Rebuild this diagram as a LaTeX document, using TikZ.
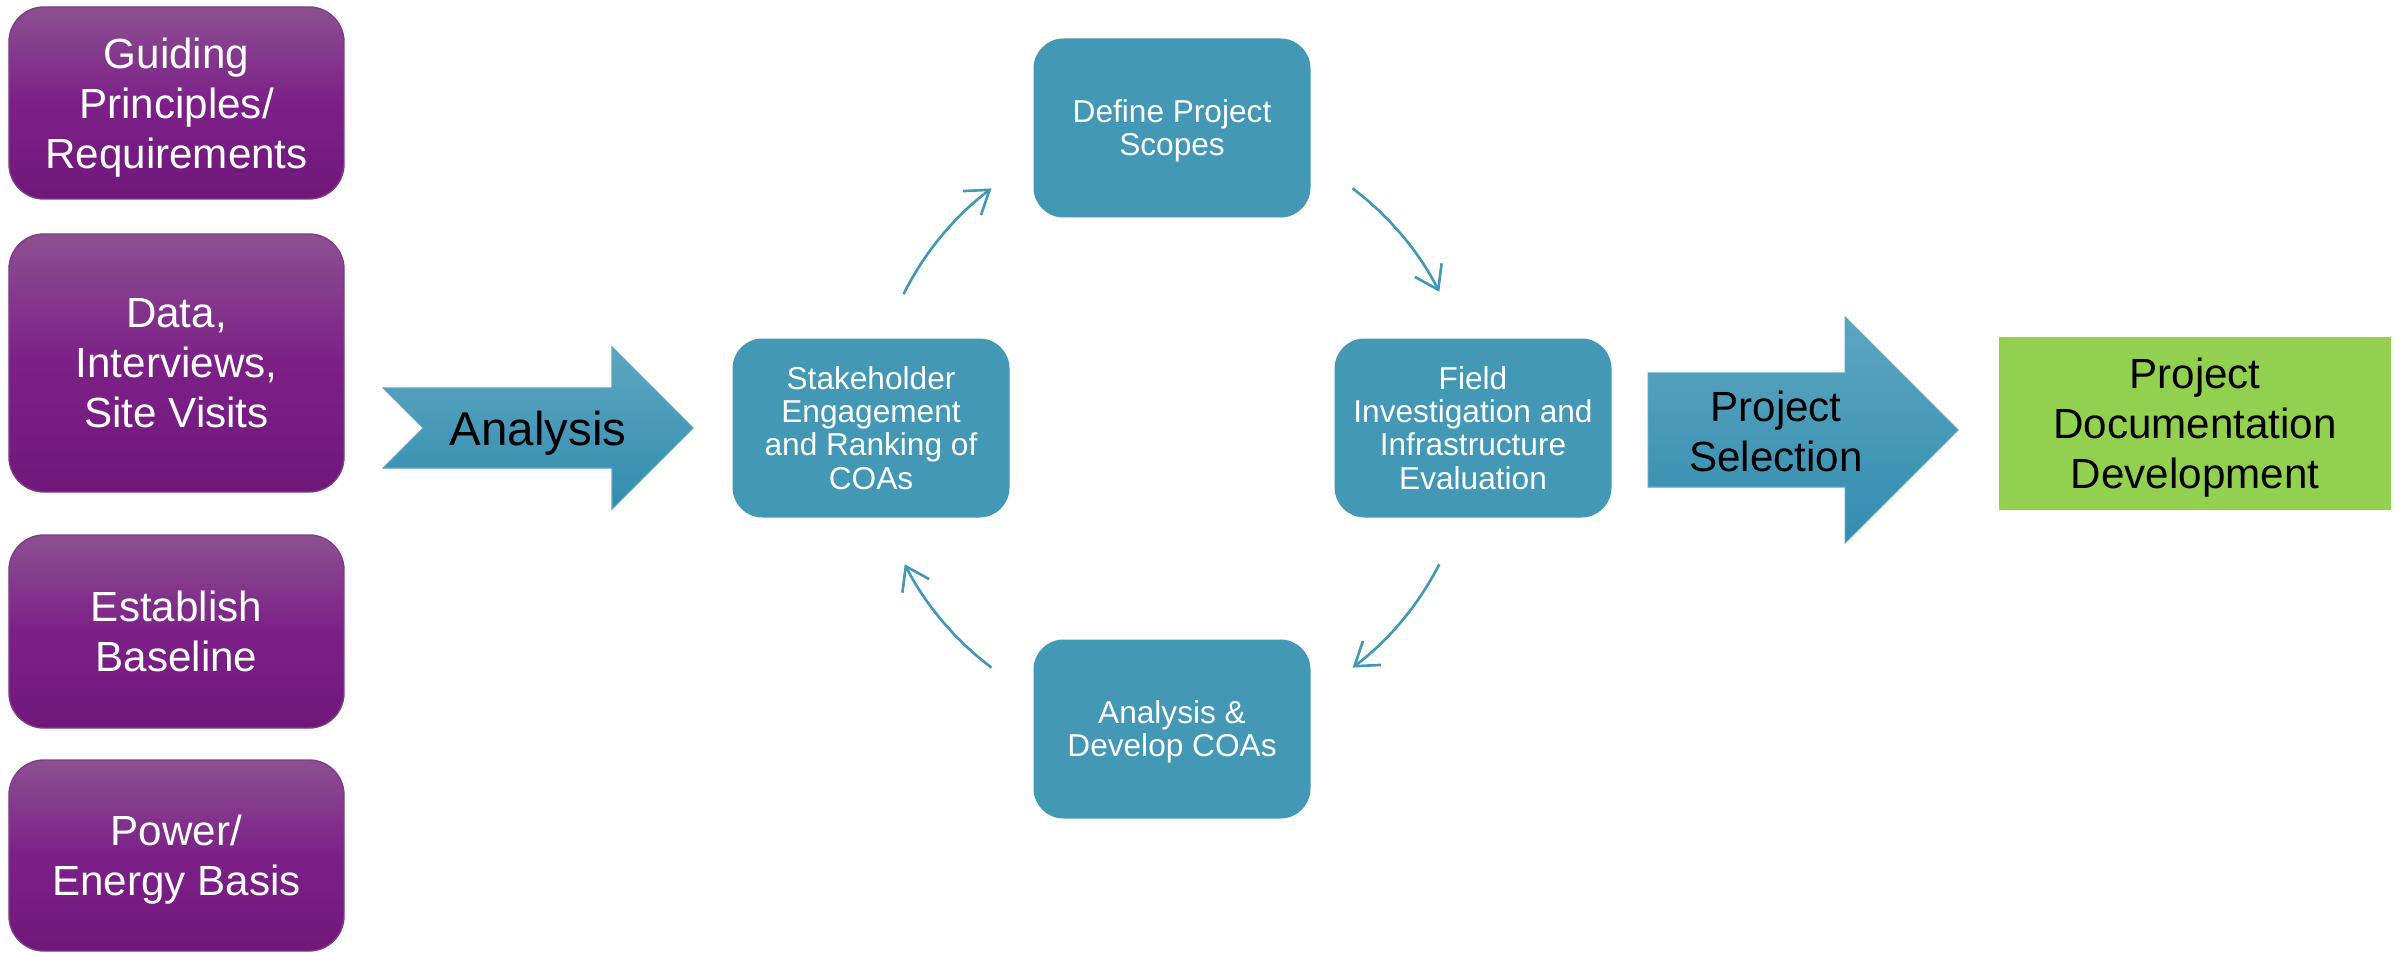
\documentclass[tikz,border=0pt]{standalone}
\usepackage{fontspec}
\setmainfont{Liberation Sans}
\usetikzlibrary{calc,arrows.meta}
\definecolor{purpletop}{RGB}{140,80,145}
\definecolor{purplemid}{RGB}{124,32,136}
\definecolor{purplebot}{RGB}{112,24,122}
\definecolor{purpleline}{RGB}{128,58,138}
\definecolor{tealbox}{RGB}{67,152,182}
\definecolor{arrowtop}{RGB}{92,166,193}
\definecolor{arrowbot}{RGB}{50,140,175}
\definecolor{docgreen}{RGB}{146,208,80}

\begin{document}
\begin{tikzpicture}[
                        prep/.style={rounded corners=0.35cm,draw=purpleline,line width=0.4pt,
                        top color=purpletop,bottom color=purplebot,middle color=purplemid,
                        minimum width=3.35cm,text=white,align=center,text depth=0pt,font=\fontsize{12}{14.2}\selectfont},
                        stepbox/.style={rounded corners=0.3cm,fill=tealbox,minimum width=2.77cm,minimum height=1.79cm,
                        text=white,align=center,text depth=0pt,font=\fontsize{9}{9.4}\selectfont},
                        cycarrow/.style={tealbox,line width=0.75pt,-{Straight Barb[length=2.2mm,width=3mm]}},
                        bigarrow/.style={top color=arrowtop,bottom color=arrowbot,draw=arrowtop,line width=0.3pt},
                        bigtext/.style={align=center,text=black,text depth=0pt}
                        ]
                        \useasboundingbox (0,0) rectangle (24,9.52);
                        % inputs
                        \node[prep,minimum height=1.92cm] (guide) at (1.765,8.49) {Guiding\\Principles/\\Requirements};
                        \node[prep,minimum height=2.58cm] (data) at (1.765,5.89) {Data,\\Interviews,\\Site Visits};
                        \node[prep,minimum height=1.93cm] (base) at (1.765,3.205) {Establish\\Baseline};
                        \node[prep,minimum height=1.91cm] (power) at (1.765,0.965) {Power/\\Energy Basis};

                        % analysis arrow
                        \shadedraw[bigarrow] (3.83,5.64) -- (6.12,5.64) -- (6.12,6.05) -- (6.93,5.24)
                                -- (6.12,4.43) -- (6.12,4.84) -- (3.83,4.84) -- (4.23,5.24) -- cycle;
                        \node[bigtext,font=\fontsize{13.5}{16}\selectfont] (ana) at (5.38,5.24) {Analysis};

                        % cycle
                        \coordinate (cyc) at (11.72,5.24);
                        \node[stepbox] (scope) at ($ (cyc) + (0,3) $) {Define Project\\Scopes};
                        \node[stepbox] (field) at ($ (cyc) + (3.01,0) $) {Field\\Investigation and\\Infrastructure\\Evaluation};
                        \node[stepbox] (coas) at ($ (cyc) + (0,-3.01) $) {Analysis \&\\Develop COAs};
                        \node[stepbox] (stake) at ($ (cyc) + (-3.01,0) $) {Stakeholder\\Engagement\\and Ranking of\\COAs};

                        \draw[cycarrow] ($ (cyc) + (153.5:3) $) arc (153.5:127:3);
                        \draw[cycarrow] ($ (cyc) + (53:3) $) arc (53:27:3);
                        \draw[cycarrow] ($ (cyc) + (-27:3) $) arc (-27:-53:3);
                        \draw[cycarrow] ($ (cyc) + (-127:3) $) arc (-127:-153:3);

                        % selection arrow
                        \shadedraw[bigarrow] (16.48,5.79) -- (18.45,5.79) -- (18.45,6.35) -- (19.58,5.22)
                                -- (18.45,4.09) -- (18.45,4.65) -- (16.48,4.65) -- cycle;
                        \node[bigtext,font=\fontsize{12}{14.2}\selectfont] (sel) at (17.76,5.21) {Project\\Selection};

                        % output
                        \node[fill=docgreen,minimum width=3.92cm,minimum height=1.73cm,bigtext,
                                font=\fontsize{12}{14.2}\selectfont] (doc) at (21.95,5.29) {Project\\Documentation\\Development};
                \end{tikzpicture}
\end{document}
